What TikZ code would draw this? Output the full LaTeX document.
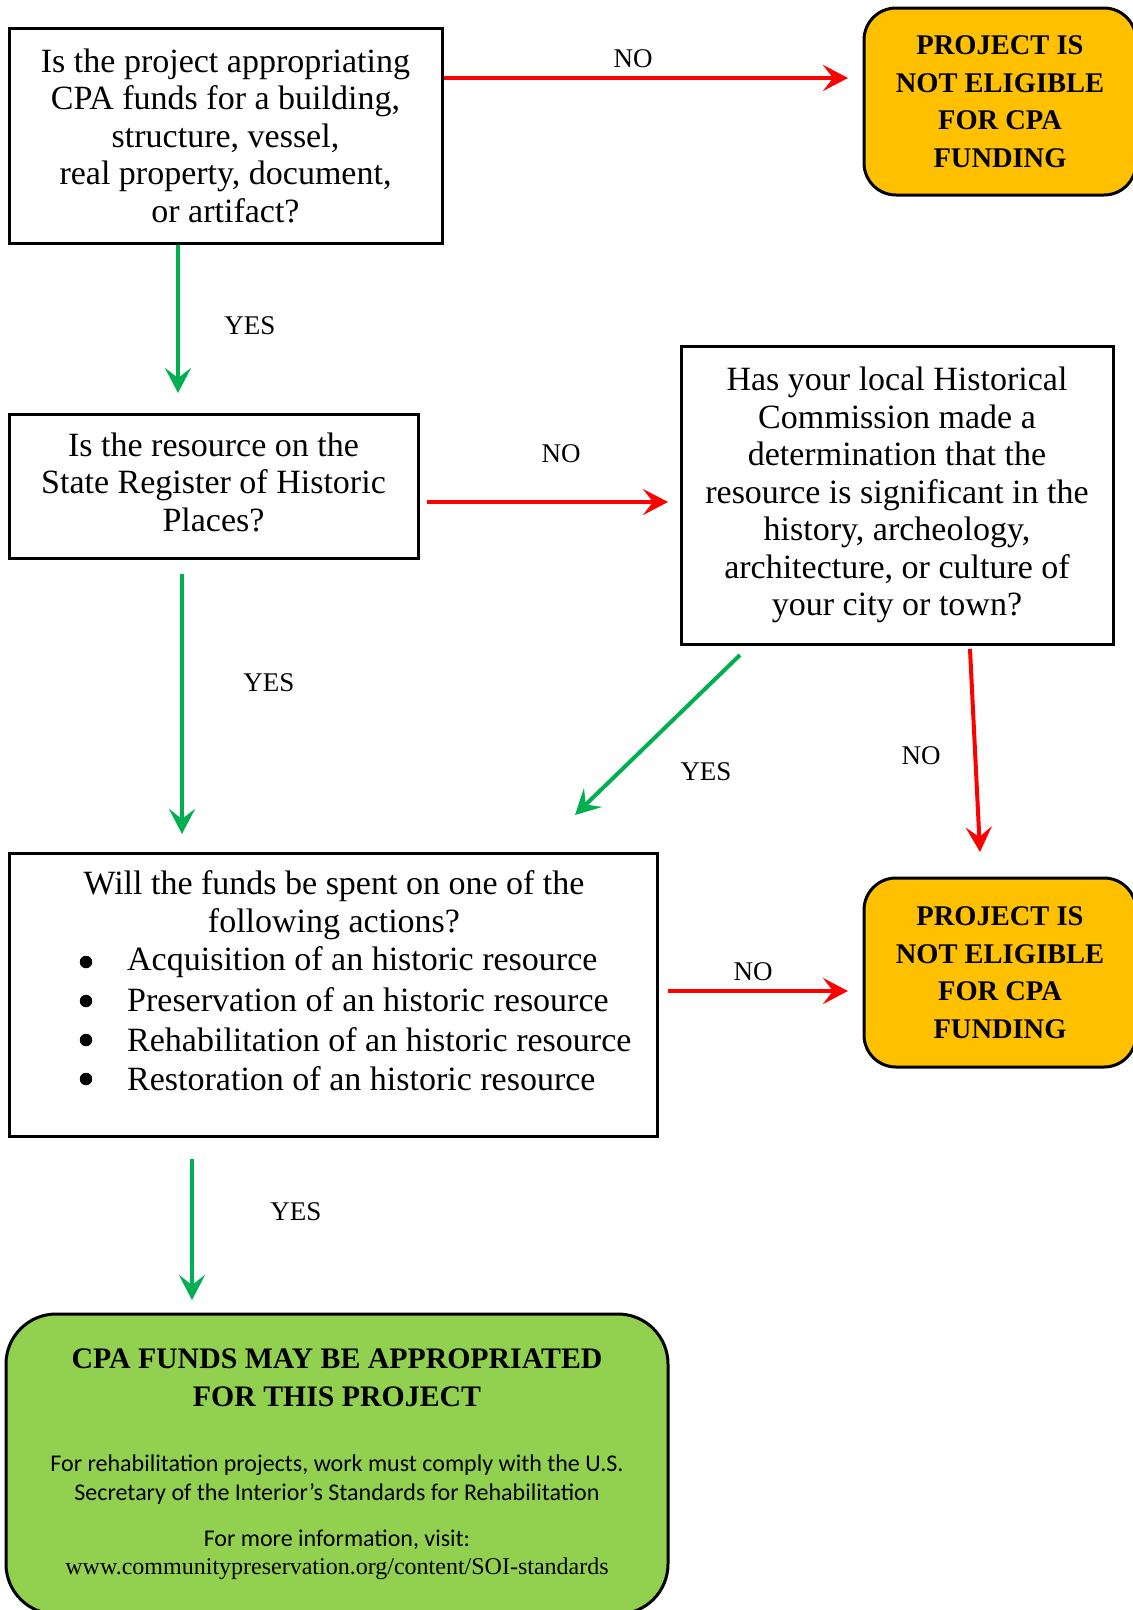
\documentclass[tikz,border=0pt]{standalone}
\usepackage{fontspec}
\setmainfont{Liberation Serif}
\newfontfamily\calfont{Carlito}
\usetikzlibrary{arrows.meta,calc}
\definecolor{grA}{RGB}{0,176,80}
\definecolor{orF}{RGB}{255,192,0}
\definecolor{lgF}{RGB}{146,208,80}
\definecolor{rdA}{RGB}{255,0,0}
\begin{document}
\begin{tikzpicture}[x=1pt,y=-1pt,
  qbox/.style={draw=black, line width=3pt, fill=white, inner sep=0pt, align=center,
    font=\fontsize{34}{37.5}\selectfont},
  obox/.style={draw=black, line width=3pt, fill=orF, rounded corners=32pt, inner sep=0pt,
    align=center, font=\bfseries\fontsize{28.5}{37.5}\selectfont},
  gbox/.style={draw=black, line width=3pt, fill=lgF, rounded corners=50pt, inner sep=0pt},
  txt/.style={inner sep=0pt, align=center, font=\fontsize{34}{37.5}\selectfont},
  bul/.style={circle, fill=black, inner sep=0pt, minimum size=12.5pt},
  lbl/.style={inner sep=0pt, font=\fontsize{27}{30}\selectfont},
  yesarr/.style={draw=grA, line width=4pt, -{Stealth[length=25pt,width=26pt,inset=10pt]}},
  noarr/.style={draw=rdA, line width=4pt, -{Stealth[length=25pt,width=26pt,inset=10pt]}}
]
\useasboundingbox (0,0) rectangle (1133,1610);
\fill[white] (0,0) rectangle (1133,1610);

% boxes
\node[qbox, minimum width=433pt, minimum height=215pt] (q1) at (225.5,135.5)
  {Is the project appropriating\\CPA funds for a building,\\structure, vessel,\\real property, document,\\or artifact?};
\node[obox, minimum width=272pt, minimum height=187pt] (o1) at (1000,101.5)
  {PROJECT IS\\NOT ELIGIBLE\\FOR CPA\\FUNDING};
\node[qbox, minimum width=409pt, minimum height=144pt] (q2) at (213.5,486) {};
\node[txt] (q2t) at (213.5,482)
  {Is the resource on the\\State Register of Historic\\Places?};
\node[qbox, minimum width=432pt, minimum height=298pt] (q3) at (897,495)
  {Has your local Historical\\Commission made a\\determination that the\\resource is significant in the\\history, archeology,\\architecture, or culture of\\your city or town?};
\node[qbox, minimum width=648pt, minimum height=283pt] (q4) at (333,994.5) {};
\node[obox, minimum width=272pt, minimum height=189pt] (o2) at (1000,972.5)
  {PROJECT IS\\NOT ELIGIBLE\\FOR CPA\\FUNDING};
\node[gbox, minimum width=662pt, minimum height=300pt] (g) at (337,1464) {};

% box 4 text
\node[txt] (q4h) at (334,905) {Will the funds be spent on one of the\\following actions?};
\node[bul] (b1) at (86,962) {};
\node[bul] (b2) at (86,1001) {};
\node[bul] (b3) at (86,1040) {};
\node[bul] (b4) at (86,1079) {};
\node[txt, anchor=west] (i1) at (127,962) {Acquisition of an historic resource};
\node[txt, anchor=west] (i2) at (127,1000) {Preservation of an historic resource};
\node[txt, anchor=west] (i3) at (127,1040) {Rehabilitation of an historic resource};
\node[txt, anchor=west] (i4) at (127,1079) {Restoration of an historic resource};

% green box text
\node[inner sep=0pt, align=center, font=\bfseries\fontsize{29.8}{38}\selectfont] (gh) at (337,1378)
  {CPA FUNDS MAY BE APPROPRIATED\\FOR THIS PROJECT};
\node[inner sep=0pt, align=center, font=\calfont\fontsize{24}{29}\selectfont] (gs) at (337,1479.5)
  {For rehabilitation projects, work must comply with the U.S.\\Secretary of the Interior’s Standards for Rehabilitation};
\node[inner sep=0pt, font=\calfont\fontsize{24}{29}\selectfont] (gm) at (337,1540)
  {For more information, visit:};
\node[inner sep=0pt, font=\fontsize{24}{29}\selectfont] (gu) at (337,1569)
  {www.communitypreservation.org/content/SOI-standards};

% arrow end coordinates
\coordinate (a1e) at (848,78);
\coordinate (y1e) at (178,393);
\coordinate (n2s) at (427,502);
\coordinate (n2e) at (668,502);
\coordinate (y2s) at (182,574);
\coordinate (y2e) at (182,834);
\coordinate (yds) at (740,655);
\coordinate (yde) at (575,815);
\coordinate (nds) at (970,649);
\coordinate (nde) at (980,852);
\coordinate (n3s) at (668,991);
\coordinate (n3e) at (848,991);
\coordinate (y3s) at (192,1159);
\coordinate (y3e) at (192,1300);

% connectors
\draw[noarr] (q1.east |- a1e) -- (a1e);
\draw[yesarr] (q1.south -| y1e) -- (y1e);
\draw[noarr] (n2s) -- (n2e);
\draw[yesarr] (y2s) -- (y2e);
\draw[yesarr] (yds) -- (yde);
\draw[noarr] (nds) -- (nde);
\draw[noarr] (n3s) -- (n3e);
\draw[yesarr] (y3s) -- (y3e);

% labels
\node[lbl] (l1) at (633,59) {NO};
\node[lbl] (l2) at (250,326) {YES};
\node[lbl] (l3) at (561,454) {NO};
\node[lbl] (l4) at (269,683) {YES};
\node[lbl] (l5) at (706,772) {YES};
\node[lbl] (l6) at (921,756) {NO};
\node[lbl] (l7) at (753,972) {NO};
\node[lbl] (l8) at (296,1212) {YES};
\end{tikzpicture}
\end{document}
